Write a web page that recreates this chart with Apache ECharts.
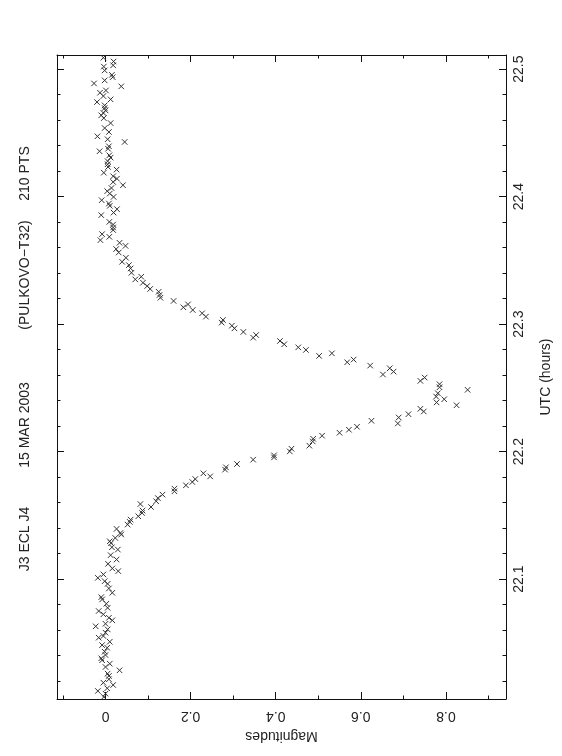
<!DOCTYPE html>
<html>
<head>
<meta charset="utf-8">
<script src="https://cdn.jsdelivr.net/npm/echarts@6/dist/echarts.min.js"></script>
<style>
html,body{margin:0;padding:0;background:#fff;}
#chart{width:562px;height:756px;}
</style>
</head>
<body>
<div id="chart"></div>
<script>
// ---- data (UTC hours, magnitude) ----
const utcHours = [
22.509,22.506,22.503,22.502,22.499,22.4955,22.4937,22.4912,22.4888,22.4865,
22.4833,22.4815,22.4789,22.4763,22.4742,22.4716,22.4695,22.4677,22.4656,22.4638,
22.4616,22.4577,22.4538,22.4507,22.4473,22.4450,22.4429,22.4395,22.4376,22.4356,
22.4324,22.4306,22.4278,22.4254,22.4233,22.4212,22.4188,22.4160,22.4141,22.4115,
22.4090,22.4068,22.4043,22.4024,22.3998,22.3972,22.3946,22.3928,22.3902,22.3875,
22.3855,22.3802,22.3781,22.3758,22.3738,22.3706,22.3685,22.3659,22.3638,22.3614,
22.3589,22.3562,22.3521,22.3489,22.3463,22.3437,22.3403,22.3372,22.3351,22.3325,
22.3299,22.3276,22.3254,22.3229,22.3207,22.3182,22.3155,22.3132,22.3111,22.3085,
22.3059,22.3033,22.3012,22.2988,22.2967,22.2939,22.2894,22.2915,22.2868,22.2842,
22.2818,22.2798,22.2751,22.2771,22.2701,22.2722,22.2675,22.2605,22.2654,22.2628,
22.2555,22.2581,22.2529,22.2505,22.2485,22.2458,22.2432,22.2411,22.2386,22.2364,
22.2336,22.2315,22.2294,22.2268,22.2242,22.2221,22.2195,22.2172,22.2148,22.2125,
22.2101,22.2080,22.2047,22.2023,22.2002,22.1971,22.1955,22.1937,22.1903,22.1877,
22.1859,22.1830,22.1806,22.1785,22.1762,22.1736,22.1710,22.1689,22.1663,22.1636,
22.1611,22.1589,22.1566,22.1538,22.1519,22.1493,22.1467,22.1449,22.1428,22.1394,
22.1362,22.1350,22.1323,22.1297,22.1282,22.1250,22.1232,22.1188,22.1154,22.1120,
22.1084,22.1063,22.1037,22.1010,22.0984,22.0963,22.0927,22.0893,22.0859,22.0841,
22.0807,22.0775,22.0750,22.0724,22.0697,22.0677,22.0650,22.0630,22.0606,22.0580,
22.0554,22.0541,22.0509,22.0483,22.0462,22.0431,22.0405,22.0379,22.0364,22.0337,
22.0311,22.0285,22.0259,22.0241,22.0215,22.0188,22.0170,22.0144,22.0123,22.0102,
22.0076,22.0058
];
const magnitudes = [
-0.005,0.019,0.018,-0.004,-0.002,0.015,0.017,-0.002,-0.027,0.037,
0.001,-0.013,-0.005,0.012,-0.020,-0.002,-0.002,0.000,-0.005,-0.010,
-0.004,0.012,-0.002,0.008,-0.019,0.005,0.045,0.008,0.006,-0.014,
0.009,0.012,0.005,0.005,0.006,0.026,-0.004,0.018,0.027,0.018,
0.041,0.014,0.004,0.010,0.019,-0.009,0.008,0.010,0.027,0.019,
-0.010,0.009,0.018,0.018,0.018,-0.008,0.009,-0.012,0.033,0.047,
0.025,0.031,0.048,0.039,0.055,0.059,0.061,0.084,0.070,0.088,
0.098,0.105,0.125,0.127,0.129,0.160,0.194,0.183,0.205,0.227,
0.236,0.276,0.273,0.297,0.303,0.324,0.347,0.354,0.410,0.420,
0.453,0.471,0.502,0.532,0.568,0.583,0.622,0.652,0.668,0.677,
0.740,0.750,0.785,0.785,0.851,0.781,0.777,0.796,0.778,0.825,
0.740,0.748,0.712,0.689,0.625,0.687,0.591,0.572,0.550,0.509,
0.488,0.487,0.479,0.437,0.433,0.396,0.396,0.347,0.309,0.283,
0.281,0.230,0.246,0.211,0.204,0.189,0.162,0.162,0.134,0.123,
0.119,0.082,0.107,0.087,0.086,0.077,0.059,0.057,0.052,0.026,
0.035,0.037,0.023,0.010,0.013,0.015,0.029,0.012,0.026,0.006,
0.016,0.030,-0.005,-0.018,-0.002,0.005,0.008,0.016,-0.010,-0.008,
0.002,0.005,-0.016,-0.005,0.008,0.016,0.000,-0.023,0.005,0.000,
-0.005,-0.016,0.010,-0.008,0.004,-0.002,0.000,-0.010,-0.008,0.010,
0.000,0.033,0.005,0.008,0.008,-0.005,0.018,0.004,-0.018,0.000,
-0.004,0.012
];
// ---- axes ----
const magRange = [-0.114, 0.9412];
const utcRange = [22.0060, 22.5111];
const magMajorTicks = [0, 0.2, 0.4, 0.6, 0.8];
const magMinorTicks = [-0.1, 0.1, 0.3, 0.5, 0.7, 0.9];
const utcMajorTicks = [22.1, 22.2, 22.3, 22.4, 22.5];
const utcMinorTicks = [22.02,22.04,22.06,22.08,22.12,22.14,22.16,22.18,22.22,22.24,22.26,22.28,22.32,22.34,22.36,22.38,22.42,22.44,22.46,22.48];
const titleParts = ['J3 ECL J4', '15 MAR 2003', '(PULKOVO\u2212T32)', '210 PTS'];

const FONT = 'Liberation Sans';
const INK = '#222';
const points = utcHours.map((t, i) => [magnitudes[i], t]);

function xAx(pos, ticks, len, withLine, labels) {
  const a = {
    type: 'value', position: pos, min: magRange[0], max: magRange[1],
    axisLine: {show: withLine, onZero: false, lineStyle: {color: '#111', width: 1}},
    axisTick: {show: true, inside: true, length: len, customValues: ticks, lineStyle: {color: '#111', width: 1}},
    axisLabel: {show: false},
    splitLine: {show: false}
  };
  if (labels) {
    a.axisLabel = {show: true, customValues: ticks, rotate: 180, margin: 10,
      fontFamily: FONT, fontSize: 14, color: INK,
      formatter: v => String(Math.round(v * 10) / 10)};
    a.name = 'Magnitudes';
    a.nameLocation = 'middle';
    a.nameRotate = 180;
    a.nameGap = 30;
    a.nameTextStyle = {fontFamily: FONT, fontSize: 14, color: INK};
  }
  return a;
}
function yAx(pos, ticks, len, withLine, labels) {
  const a = {
    type: 'value', position: pos, min: utcRange[0], max: utcRange[1],
    axisLine: {show: withLine, onZero: false, lineStyle: {color: '#111', width: 1}},
    axisTick: {show: true, inside: true, length: len, customValues: ticks, lineStyle: {color: '#111', width: 1}},
    axisLabel: {show: false},
    splitLine: {show: false}
  };
  if (labels) {
    a.axisLabel = {show: true, customValues: ticks, rotate: 90, margin: 6,
      fontFamily: FONT, fontSize: 14, color: INK,
      formatter: v => v.toFixed(1)};
    a.name = 'UTC (hours)';
    a.nameLocation = 'middle';
    a.nameRotate = 90;
    a.nameGap = 33;
    a.nameTextStyle = {fontFamily: FONT, fontSize: 14, color: INK};
  }
  return a;
}

const chart = echarts.init(document.getElementById('chart'), null, {renderer: 'canvas'});
const titleY = [539, 425, 275, 173.5];
chart.setOption({
  animation: false,
  backgroundColor: '#fff',
  grid: {left: 57, right: 56, top: 55, bottom: 57, containLabel: false},
  xAxis: [
    xAx('bottom', magMajorTicks, 7, true, true),
    xAx('bottom', magMinorTicks, 3.5, false, false),
    xAx('top', magMajorTicks, 7, true, false),
    xAx('top', magMinorTicks, 3.5, false, false)
  ],
  yAxis: [
    yAx('right', utcMajorTicks, 7, true, true),
    yAx('right', utcMinorTicks, 3.5, false, false),
    yAx('left', utcMajorTicks, 7, true, false),
    yAx('left', utcMinorTicks, 3.5, false, false)
  ],
  series: [{
    type: 'scatter',
    xAxisIndex: 0, yAxisIndex: 0,
    data: points,
    symbol: 'path://M0,0L10,10M10,0L0,10',
    symbolSize: 5.5,
    itemStyle: {color: 'none', borderColor: '#333', borderWidth: 1, opacity: 1}
  }],
  graphic: titleParts.map((s, i) => ({
    type: 'text', x: 25, y: titleY[i], rotation: Math.PI / 2,
    style: {text: s, fontFamily: FONT, fontSize: 14, fill: INK, align: 'center', verticalAlign: 'middle'}
  }))
});
</script>
</body>
</html>
